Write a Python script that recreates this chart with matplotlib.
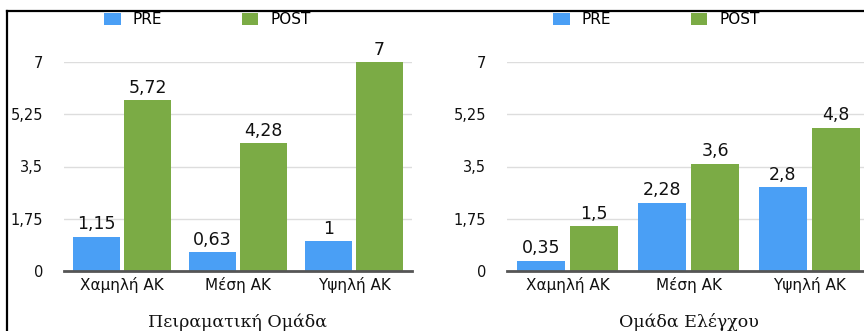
import matplotlib
matplotlib.use("Agg")
import matplotlib.pyplot as plt
from matplotlib.lines import Line2D
import numpy as np

categories = ["Χαμηλή ΑΚ", "Μέση ΑΚ", "Υψηλή ΑΚ"]
series_names = ["PRE", "POST"]
exp_pre = [1.15, 0.63, 1.0]
exp_post = [5.72, 4.28, 7.0]
ctrl_pre = [0.35, 2.28, 2.8]
ctrl_post = [1.5, 3.6, 4.8]
yticks = [0, 1.75, 3.5, 5.25, 7]
panel_titles = ["Πειραματική Ομάδα", "Ομάδα Ελέγχου"]

BLUE = "#4A9FF5"
GREEN = "#7BAB45"
W, H = 864, 331

def fmt(v):
    return f"{v:g}".replace(".", ",")

fig = plt.figure(figsize=(W / 100, H / 100), dpi=100)
plt.rcParams["font.family"] = ["DejaVu Sans"]

def make_panel(left_px, width_px, pre, post, title, legend_x_px):
    ax = fig.add_axes([left_px / W, 60 / H, width_px / W, 209 / H])
    x = np.arange(len(categories))
    bw = 0.4
    gap = 0.02
    b1 = ax.bar(x - bw / 2 - gap, pre, bw, color=BLUE, label=series_names[0])
    b2 = ax.bar(x + bw / 2 + gap, post, bw, color=GREEN, label=series_names[1])
    for bars, vals in ((b1, pre), (b2, post)):
        ax.bar_label(bars, labels=[fmt(v) for v in vals], padding=2.5,
                     fontsize=12.5, color="#111111", clip_on=False)
    ax.set_xlim(-0.5, len(categories) - 0.5)
    ax.set_ylim(0, 7)
    ax.set_yticks(yticks)
    ax.set_yticklabels([fmt(v) for v in yticks], fontsize=10.5, color="#111111")
    ax.set_xticks(x)
    ax.set_xticklabels(categories, fontsize=11, color="#111111")
    ax.tick_params(axis="y", length=0, pad=15)
    ax.tick_params(axis="x", length=0, pad=4)
    ax.grid(axis="y", color="#dddddd", linewidth=1)
    ax.set_axisbelow(True)
    for s in ("top", "right", "left"):
        ax.spines[s].set_visible(False)
    ax.spines["bottom"].set_color("#555555")
    ax.spines["bottom"].set_linewidth(2)
    ax.spines["bottom"].set_zorder(5)
    center = (left_px + width_px / 2) / W
    fig.text(center, 1 - 322 / H, title, ha="center", va="center",
             fontsize=12.5, family=["DejaVu Serif"], color="#111111")
    ax.legend(loc="center left", bbox_to_anchor=(legend_x_px / W, 1 - 20 / H),
              bbox_transform=fig.transFigure, ncol=2, frameon=False,
              fontsize=11, handlelength=1.1, handleheight=0.85,
              handletextpad=0.78, columnspacing=5.2, borderpad=0,
              borderaxespad=0)
    return ax

make_panel(64, 348, exp_pre, exp_post, panel_titles[0], 104)
make_panel(507, 363, ctrl_pre, ctrl_post, panel_titles[1], 553)

fig.add_artist(Line2D([7 / W, 1], [1 - 11 / H, 1 - 11 / H], color="black",
                      linewidth=1.6, transform=fig.transFigure))
fig.add_artist(Line2D([7 / W, 7 / W], [1 - 11 / H, 0], color="black",
                      linewidth=1.6, transform=fig.transFigure))

fig.savefig("out.png", dpi=100)
